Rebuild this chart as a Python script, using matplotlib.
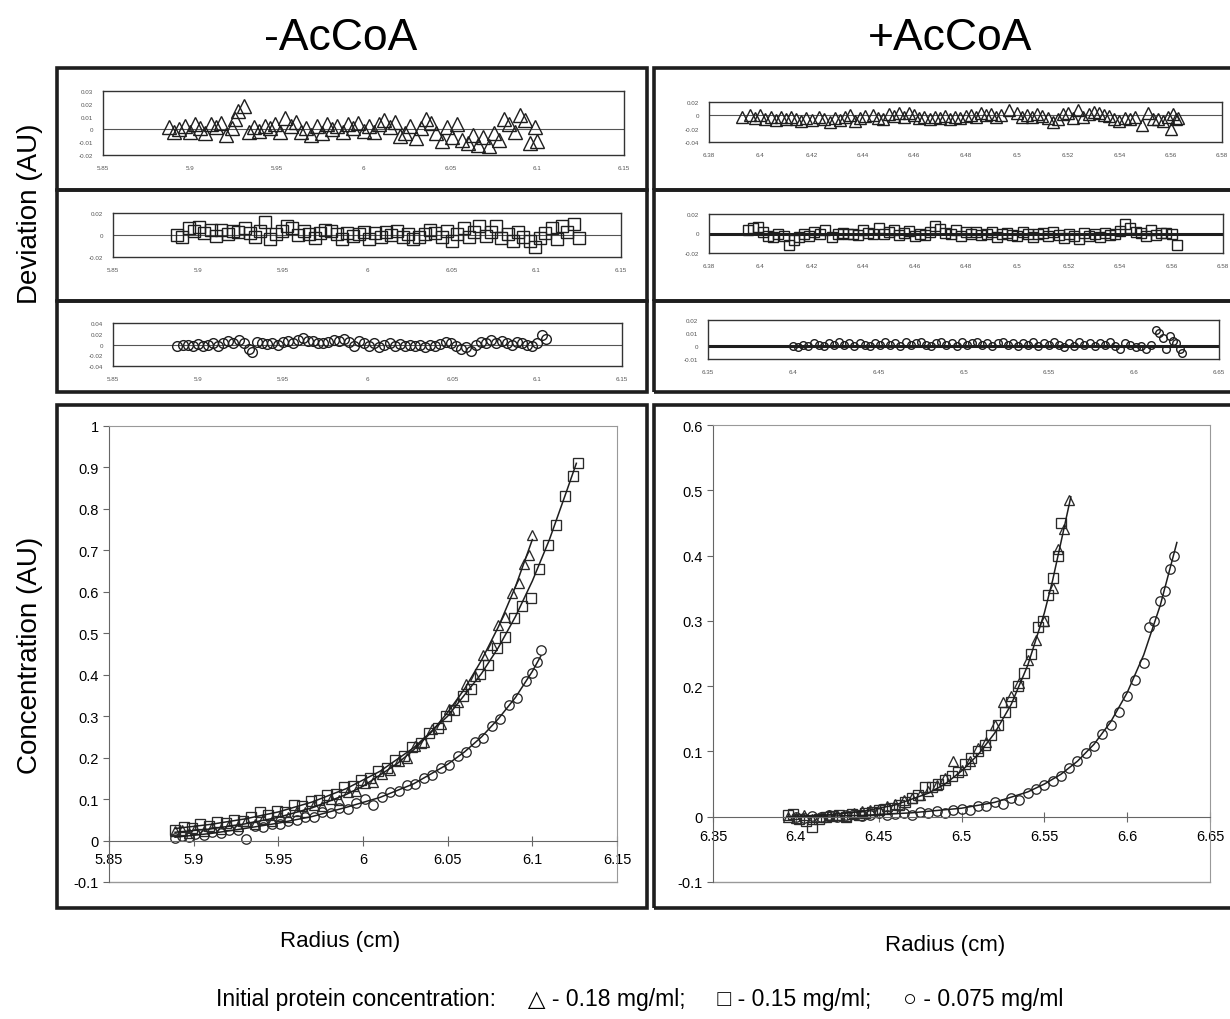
import matplotlib
matplotlib.use('Agg')
import matplotlib.pyplot as plt
from matplotlib.patches import Rectangle

W, H = 1230, 1020
INK = '#1e1e1e'

# ---- main plots: (radius, concentration) ----
L_TRI = [(5.889, 0.022), (5.893, 0.026), (5.897, 0.019), (5.901, 0.028), (5.906, 0.024),
         (5.911, 0.033), (5.916, 0.027), (5.921, 0.038), (5.926, 0.035), (5.931, 0.046),
         (5.936, 0.041), (5.941, 0.052), (5.946, 0.047), (5.951, 0.060), (5.956, 0.058),
         (5.961, 0.072), (5.966, 0.068), (5.971, 0.085), (5.976, 0.083), (5.981, 0.100),
         (5.986, 0.098), (5.991, 0.118), (5.996, 0.120), (6.001, 0.138), (6.006, 0.142),
         (6.011, 0.160), (6.016, 0.170), (6.021, 0.192), (6.026, 0.200), (6.031, 0.228),
         (6.036, 0.238), (6.041, 0.270), (6.046, 0.282), (6.051, 0.318), (6.056, 0.335),
         (6.061, 0.378), (6.066, 0.398), (6.071, 0.448), (6.076, 0.472), (6.080, 0.520),
         (6.084, 0.540), (6.088, 0.598), (6.092, 0.622), (6.095, 0.668), (6.098, 0.690),
         (6.100, 0.738)]
L_SQ = [(5.889, 0.025), (5.894, 0.033), (5.899, 0.030), (5.904, 0.040), (5.909, 0.036),
        (5.914, 0.045), (5.919, 0.042), (5.924, 0.050), (5.929, 0.048), (5.934, 0.058),
        (5.939, 0.068), (5.944, 0.062), (5.949, 0.072), (5.954, 0.070), (5.959, 0.085),
        (5.964, 0.084), (5.969, 0.095), (5.974, 0.097), (5.979, 0.110), (5.984, 0.112),
        (5.989, 0.130), (5.994, 0.131), (5.999, 0.145), (6.004, 0.150), (6.009, 0.168),
        (6.014, 0.176), (6.019, 0.195), (6.024, 0.204), (6.029, 0.225), (6.034, 0.236),
        (6.039, 0.260), (6.044, 0.272), (6.049, 0.300), (6.054, 0.316), (6.059, 0.348),
        (6.064, 0.365), (6.069, 0.402), (6.074, 0.424), (6.079, 0.465), (6.084, 0.490),
        (6.089, 0.538), (6.094, 0.565), (6.099, 0.585), (6.104, 0.655), (6.109, 0.712),
        (6.114, 0.760), (6.119, 0.830), (6.124, 0.880), (6.127, 0.910)]
L_CIRC = [(5.889, 0.006), (5.893, 0.012), (5.897, 0.009), (5.901, 0.015), (5.906, 0.013),
          (5.911, 0.020), (5.916, 0.018), (5.921, 0.026), (5.926, 0.025), (5.931, 0.003),
          (5.936, 0.034), (5.941, 0.032), (5.946, 0.041), (5.951, 0.040), (5.956, 0.048),
          (5.961, 0.050), (5.966, 0.058), (5.971, 0.058), (5.976, 0.068), (5.981, 0.066),
          (5.986, 0.078), (5.991, 0.076), (5.996, 0.090), (6.001, 0.100), (6.006, 0.085),
          (6.011, 0.104), (6.016, 0.118), (6.021, 0.120), (6.026, 0.133), (6.031, 0.136),
          (6.036, 0.152), (6.041, 0.158), (6.046, 0.175), (6.051, 0.182), (6.056, 0.205),
          (6.061, 0.214), (6.066, 0.238), (6.071, 0.248), (6.076, 0.276), (6.081, 0.292),
          (6.086, 0.326), (6.091, 0.345), (6.096, 0.385), (6.100, 0.405), (6.103, 0.430),
          (6.105, 0.460)]

R_TRI = [(6.395, 0.000), (6.400, -0.002), (6.405, 0.003), (6.410, -0.004), (6.415, 0.000),
         (6.420, 0.002), (6.425, 0.003), (6.430, 0.001), (6.435, 0.006), (6.440, 0.008),
         (6.445, 0.010), (6.450, 0.012), (6.455, 0.016), (6.460, 0.020), (6.465, 0.026),
         (6.470, 0.028), (6.475, 0.034), (6.480, 0.040), (6.485, 0.048), (6.490, 0.060),
         (6.495, 0.085), (6.500, 0.072), (6.505, 0.085), (6.510, 0.105), (6.515, 0.115),
         (6.520, 0.140), (6.525, 0.175), (6.530, 0.185), (6.535, 0.205), (6.540, 0.240),
         (6.545, 0.270), (6.550, 0.300), (6.555, 0.350), (6.558, 0.410), (6.562, 0.440),
         (6.565, 0.485)]
R_SQ = [(6.395, 0.002), (6.398, 0.004), (6.402, -0.004), (6.406, -0.006), (6.410, -0.015),
        (6.414, -0.004), (6.418, 0.000), (6.422, 0.001), (6.426, 0.002), (6.430, 0.000),
        (6.434, 0.004), (6.438, 0.003), (6.442, 0.006), (6.446, 0.007), (6.450, 0.010),
        (6.454, 0.012), (6.458, 0.014), (6.462, 0.018), (6.466, 0.022), (6.470, 0.028),
        (6.474, 0.034), (6.478, 0.045), (6.482, 0.046), (6.486, 0.050), (6.490, 0.056),
        (6.494, 0.062), (6.498, 0.068), (6.502, 0.080), (6.506, 0.090), (6.510, 0.100),
        (6.514, 0.110), (6.518, 0.125), (6.522, 0.140), (6.526, 0.160), (6.530, 0.175),
        (6.534, 0.200), (6.538, 0.220), (6.542, 0.250), (6.546, 0.290), (6.549, 0.300),
        (6.552, 0.340), (6.555, 0.365), (6.558, 0.400), (6.560, 0.450)]
R_CIRC = [(6.400, 0.000), (6.405, -0.002), (6.410, 0.001), (6.415, -0.001), (6.420, 0.003),
          (6.425, 0.000), (6.430, 0.002), (6.435, 0.004), (6.440, 0.001), (6.445, 0.003),
          (6.450, 0.005), (6.455, 0.002), (6.460, 0.004), (6.465, 0.006), (6.470, 0.003),
          (6.475, 0.007), (6.480, 0.005), (6.485, 0.008), (6.490, 0.006), (6.495, 0.010),
          (6.500, 0.012), (6.505, 0.010), (6.510, 0.017), (6.515, 0.016), (6.520, 0.022),
          (6.525, 0.020), (6.530, 0.028), (6.535, 0.026), (6.540, 0.036), (6.545, 0.042),
          (6.550, 0.048), (6.555, 0.055), (6.560, 0.062), (6.565, 0.074), (6.570, 0.085),
          (6.575, 0.098), (6.580, 0.108), (6.585, 0.126), (6.590, 0.140), (6.595, 0.160),
          (6.600, 0.185), (6.605, 0.210), (6.610, 0.235), (6.613, 0.290), (6.616, 0.300),
          (6.620, 0.330), (6.623, 0.345), (6.626, 0.380), (6.628, 0.400)]

# fitted curves, points
FIT_L_TRI = [(5.889, 0.020), (5.91, 0.028), (5.93, 0.040), (5.95, 0.056), (5.97, 0.079),
             (5.99, 0.111), (6.00, 0.131), (6.02, 0.185), (6.03, 0.219), (6.04, 0.260),
             (6.05, 0.309), (6.06, 0.366), (6.07, 0.435), (6.08, 0.516), (6.09, 0.612),
             (6.10, 0.726)]
FIT_L_SQ = [(5.889, 0.029), (5.91, 0.039), (5.93, 0.052), (5.95, 0.069), (5.97, 0.093),
            (5.99, 0.125), (6.01, 0.167), (6.03, 0.224), (6.05, 0.300), (6.07, 0.403),
            (6.08, 0.466), (6.09, 0.540), (6.10, 0.626), (6.11, 0.725), (6.12, 0.840),
            (6.126, 0.910)]
FIT_L_CIRC = [(5.889, 0.008), (5.91, 0.017), (5.93, 0.029), (5.95, 0.042), (5.97, 0.058),
              (5.99, 0.080), (6.01, 0.104), (6.03, 0.137), (6.05, 0.184), (6.06, 0.214),
              (6.07, 0.250), (6.08, 0.294), (6.09, 0.345), (6.10, 0.408), (6.105, 0.445)]
FIT_R_TRI = [(6.395, 0.000), (6.42, 0.003), (6.44, 0.008), (6.46, 0.018), (6.48, 0.036),
             (6.49, 0.050), (6.50, 0.070), (6.51, 0.095), (6.52, 0.128), (6.53, 0.172),
             (6.54, 0.232), (6.55, 0.312), (6.555, 0.362), (6.56, 0.420), (6.566, 0.490)]
FIT_R_CIRC = [(6.400, 0.000), (6.44, 0.002), (6.47, 0.006), (6.50, 0.013), (6.52, 0.022),
              (6.54, 0.038), (6.55, 0.050), (6.56, 0.065), (6.57, 0.085), (6.58, 0.111),
              (6.59, 0.145), (6.60, 0.190), (6.61, 0.248), (6.62, 0.324), (6.63, 0.420)]

# ---- residual (deviation) plots ----
RES_L_TRI = [(5.888, 0.002), (5.891, -0.002), (5.894, 0.000), (5.897, 0.003), (5.900, -0.002),
             (5.903, 0.004), (5.906, 0.001), (5.909, -0.003), (5.912, 0.004), (5.915, 0.002),
             (5.918, 0.005), (5.921, -0.004), (5.924, 0.001), (5.926, 0.008), (5.928, 0.014),
             (5.931, 0.018), (5.934, -0.002), (5.937, 0.002), (5.940, -0.001), (5.943, 0.003),
             (5.946, 0.001), (5.949, 0.004), (5.952, -0.002), (5.955, 0.009), (5.958, 0.003),
             (5.961, 0.006), (5.964, -0.002), (5.967, 0.001), (5.970, -0.004), (5.973, 0.003),
             (5.976, -0.003), (5.979, 0.004), (5.982, 0.000), (5.985, 0.003), (5.988, -0.002),
             (5.991, 0.004), (5.994, 0.001), (5.997, 0.005), (6.000, -0.001), (6.003, 0.003),
             (6.006, -0.002), (6.009, 0.004), (6.012, 0.007), (6.015, 0.002), (6.018, 0.006),
             (6.021, -0.005), (6.024, -0.003), (6.027, 0.003), (6.030, -0.007), (6.033, 0.001),
             (6.036, 0.008), (6.039, 0.005), (6.042, -0.003), (6.045, -0.009), (6.048, 0.002),
             (6.051, -0.006), (6.054, 0.004), (6.057, -0.008), (6.060, -0.011), (6.063, -0.004),
             (6.066, -0.012), (6.069, -0.006), (6.072, -0.013), (6.075, -0.003), (6.078, -0.008),
             (6.081, 0.008), (6.084, 0.004), (6.087, -0.002), (6.090, 0.011), (6.093, 0.007),
             (6.096, -0.011), (6.099, 0.002), (6.100, -0.009)]
RES_L_SQ = [(5.888, 0.000), (5.891, -0.002), (5.895, 0.006), (5.898, 0.004), (5.901, 0.007),
            (5.904, 0.002), (5.908, 0.005), (5.911, -0.001), (5.914, 0.005), (5.918, 0.001),
            (5.921, 0.004), (5.924, 0.003), (5.928, 0.006), (5.931, 0.002), (5.934, -0.002),
            (5.937, 0.004), (5.940, 0.012), (5.943, -0.004), (5.946, 0.001), (5.950, 0.004),
            (5.953, 0.008), (5.956, 0.006), (5.959, 0.000), (5.963, 0.004), (5.966, 0.001),
            (5.969, -0.003), (5.972, 0.002), (5.975, 0.005), (5.979, 0.004), (5.982, 0.001),
            (5.985, -0.004), (5.988, 0.002), (5.992, -0.001), (5.995, 0.001), (5.998, 0.003),
            (6.001, -0.004), (6.005, 0.002), (6.008, -0.002), (6.011, 0.003), (6.014, 0.000),
            (6.018, 0.004), (6.021, -0.002), (6.024, 0.001), (6.027, -0.004), (6.031, -0.002),
            (6.034, 0.001), (6.037, 0.005), (6.040, 0.002), (6.044, -0.002), (6.047, 0.004),
            (6.050, -0.005), (6.053, 0.001), (6.057, 0.006), (6.060, -0.002), (6.063, 0.003),
            (6.066, 0.008), (6.070, -0.001), (6.073, 0.003), (6.076, 0.008), (6.079, -0.003),
            (6.083, 0.001), (6.086, -0.005), (6.089, 0.003), (6.092, -0.002), (6.096, -0.005),
            (6.099, -0.011), (6.102, -0.003), (6.105, 0.002), (6.109, 0.006), (6.112, -0.004),
            (6.115, 0.008), (6.118, 0.003), (6.122, 0.010), (6.125, -0.003)]
RES_L_CIRC = [(5.888, -0.002), (5.891, -0.001), (5.894, 0.000), (5.897, -0.002), (5.900, 0.001),
              (5.903, -0.003), (5.906, 0.000), (5.909, 0.002), (5.912, -0.002), (5.915, 0.003),
              (5.918, 0.006), (5.921, 0.002), (5.924, 0.009), (5.927, 0.003), (5.930, -0.008),
              (5.932, -0.014), (5.935, 0.004), (5.938, 0.002), (5.941, 0.001), (5.944, 0.003),
              (5.947, 0.000), (5.950, 0.004), (5.953, 0.006), (5.956, 0.002), (5.959, 0.008),
              (5.962, 0.012), (5.965, 0.007), (5.968, 0.006), (5.971, 0.003), (5.974, 0.002),
              (5.977, 0.005), (5.980, 0.008), (5.983, 0.006), (5.986, 0.010), (5.989, 0.004),
              (5.992, -0.003), (5.995, 0.007), (5.998, 0.002), (6.001, -0.002), (6.004, 0.003),
              (6.007, -0.004), (6.010, 0.000), (6.013, 0.002), (6.016, -0.003), (6.019, 0.001),
              (6.022, -0.002), (6.025, 0.000), (6.028, -0.003), (6.031, -0.001), (6.034, -0.004),
              (6.037, 0.000), (6.040, -0.002), (6.043, 0.001), (6.046, 0.005), (6.049, 0.002),
              (6.052, -0.002), (6.055, -0.008), (6.058, -0.005), (6.061, -0.012), (6.064, 0.000),
              (6.067, 0.005), (6.070, 0.002), (6.073, 0.008), (6.076, 0.003), (6.079, 0.006),
              (6.082, 0.002), (6.085, -0.001), (6.088, 0.004), (6.091, 0.002), (6.094, 0.000),
              (6.097, -0.002), (6.100, 0.002), (6.103, 0.018), (6.105, 0.010)]
RES_R_TRI = [(6.393, -0.003), (6.396, 0.000), (6.398, -0.004), (6.400, 0.000), (6.402, -0.006),
             (6.404, -0.002), (6.406, -0.007), (6.408, -0.003), (6.410, -0.006), (6.412, -0.002),
             (6.414, -0.005), (6.416, -0.008), (6.418, -0.004), (6.420, -0.007), (6.423, -0.003),
             (6.425, -0.006), (6.427, -0.010), (6.429, -0.004), (6.431, -0.007), (6.433, -0.002),
             (6.435, 0.000), (6.437, -0.008), (6.439, -0.004), (6.441, -0.001), (6.444, 0.000),
             (6.446, -0.004), (6.448, -0.006), (6.450, 0.002), (6.452, -0.001), (6.454, 0.003),
             (6.456, -0.002), (6.458, 0.004), (6.460, 0.001), (6.462, -0.004), (6.464, -0.002),
             (6.466, -0.005), (6.468, -0.002), (6.470, -0.004), (6.472, -0.001), (6.474, -0.006),
             (6.476, -0.002), (6.478, -0.004), (6.480, -0.001), (6.482, 0.001), (6.484, -0.002),
             (6.486, 0.004), (6.488, 0.000), (6.490, 0.002), (6.492, -0.003), (6.494, 0.000),
             (6.497, 0.008), (6.500, 0.003), (6.502, -0.003), (6.504, 0.001), (6.506, -0.002),
             (6.508, 0.002), (6.510, -0.001), (6.512, -0.004), (6.514, -0.010), (6.516, -0.006),
             (6.518, 0.002), (6.520, 0.004), (6.522, -0.004), (6.524, 0.008), (6.526, -0.003),
             (6.528, 0.002), (6.530, 0.005), (6.532, 0.003), (6.534, 0.000), (6.536, -0.001),
             (6.538, -0.005), (6.540, -0.008), (6.542, -0.004), (6.544, -0.006), (6.546, -0.002),
             (6.549, -0.014), (6.551, 0.003), (6.553, -0.006), (6.555, -0.006), (6.557, -0.008),
             (6.559, -0.003), (6.560, -0.020), (6.561, 0.002), (6.562, -0.006), (6.563, -0.004)]
RES_R_SQ = [(6.395, 0.004), (6.397, 0.006), (6.399, 0.007), (6.401, 0.002), (6.403, -0.003),
            (6.405, -0.004), (6.407, 0.000), (6.409, -0.003), (6.411, -0.012), (6.413, -0.007),
            (6.415, -0.004), (6.417, -0.001), (6.419, -0.003), (6.421, 0.002), (6.423, -0.001),
            (6.425, 0.004), (6.428, -0.004), (6.430, 0.000), (6.432, 0.001), (6.434, -0.001),
            (6.436, 0.000), (6.438, -0.002), (6.440, 0.004), (6.442, 0.001), (6.444, -0.001),
            (6.446, 0.006), (6.448, 0.000), (6.450, 0.002), (6.452, 0.004), (6.454, -0.002),
            (6.456, 0.001), (6.458, 0.003), (6.460, -0.003), (6.462, 0.000), (6.464, -0.002),
            (6.466, 0.002), (6.468, 0.008), (6.470, 0.005), (6.472, 0.001), (6.474, 0.000),
            (6.476, 0.004), (6.478, -0.003), (6.480, 0.002), (6.482, 0.000), (6.484, 0.002),
            (6.486, -0.002), (6.488, -0.001), (6.490, 0.002), (6.492, -0.004), (6.494, 0.000),
            (6.496, 0.001), (6.498, -0.002), (6.500, -0.003), (6.502, 0.002), (6.504, 0.000),
            (6.506, -0.004), (6.508, -0.001), (6.510, 0.001), (6.512, -0.003), (6.514, 0.002),
            (6.516, -0.002), (6.518, -0.005), (6.520, 0.000), (6.522, -0.003), (6.524, -0.006),
            (6.526, 0.001), (6.528, -0.003), (6.530, -0.001), (6.532, -0.004), (6.534, 0.001),
            (6.536, -0.002), (6.538, 0.000), (6.540, 0.003), (6.542, 0.010), (6.544, 0.006),
            (6.546, 0.002), (6.548, 0.001), (6.550, -0.003), (6.552, 0.004), (6.554, -0.002),
            (6.556, 0.001), (6.558, 0.001), (6.560, -0.001), (6.562, -0.012)]
RES_R_CIRC = [(6.400, 0.000), (6.403, -0.001), (6.406, 0.001), (6.409, 0.000), (6.412, 0.002),
              (6.415, 0.001), (6.418, 0.000), (6.421, 0.002), (6.424, 0.001), (6.427, 0.003),
              (6.430, 0.001), (6.433, 0.002), (6.436, 0.000), (6.439, 0.002), (6.442, 0.001),
              (6.445, 0.000), (6.448, 0.002), (6.451, 0.001), (6.454, 0.003), (6.457, 0.001),
              (6.460, 0.002), (6.463, 0.000), (6.466, 0.003), (6.469, 0.001), (6.472, 0.002),
              (6.475, 0.003), (6.478, 0.001), (6.481, 0.000), (6.484, 0.002), (6.487, 0.003),
              (6.490, 0.001), (6.493, 0.002), (6.496, 0.000), (6.499, 0.003), (6.502, 0.001),
              (6.505, 0.002), (6.508, 0.003), (6.511, 0.001), (6.514, 0.002), (6.517, 0.000),
              (6.520, 0.002), (6.523, 0.003), (6.526, 0.001), (6.529, 0.002), (6.532, 0.000),
              (6.535, 0.002), (6.538, 0.001), (6.541, 0.003), (6.544, 0.000), (6.547, 0.002),
              (6.550, 0.001), (6.553, 0.003), (6.556, 0.001), (6.559, -0.001), (6.562, 0.002),
              (6.565, 0.000), (6.568, 0.003), (6.571, 0.001), (6.574, 0.002), (6.577, 0.000),
              (6.580, 0.002), (6.583, 0.001), (6.586, 0.003), (6.589, 0.000), (6.592, -0.002),
              (6.595, 0.002), (6.598, 0.001), (6.601, -0.001), (6.604, 0.000), (6.607, -0.002),
              (6.610, 0.001), (6.613, 0.012), (6.615, 0.010), (6.617, 0.006), (6.619, -0.002),
              (6.621, 0.008), (6.623, 0.004), (6.625, 0.002), (6.627, -0.002), (6.628, -0.005)]

# tick values and labels
L_XTICKS = [5.85, 5.9, 5.95, 6.0, 6.05, 6.1, 6.15]
L_XLABELS = ['5.85', '5.9', '5.95', '6', '6.05', '6.1', '6.15']
R_XTICKS = [6.35, 6.4, 6.45, 6.5, 6.55, 6.6, 6.65]
R_XLABELS = ['6.35', '6.4', '6.45', '6.5', '6.55', '6.6', '6.65']
R_RES_XTICKS = [6.38, 6.40, 6.42, 6.44, 6.46, 6.48, 6.50, 6.52, 6.54, 6.56, 6.58]
R_RES_XLABELS = ['6.38', '6.4', '6.42', '6.44', '6.46', '6.48', '6.5', '6.52', '6.54', '6.56', '6.58']
L_YTICKS = [-0.1, 0, 0.1, 0.2, 0.3, 0.4, 0.5, 0.6, 0.7, 0.8, 0.9, 1.0]
L_YLABELS = ['-0.1', '0', '0.1', '0.2', '0.3', '0.4', '0.5', '0.6', '0.7', '0.8', '0.9', '1']
R_YTICKS = [-0.1, 0, 0.1, 0.2, 0.3, 0.4, 0.5, 0.6]
R_YLABELS = ['-0.1', '0', '0.1', '0.2', '0.3', '0.4', '0.5', '0.6']

LEGEND = ('Initial protein concentration:     \u25b3 - 0.18 mg/ml;     '
          '\u25a1 - 0.15 mg/ml;     \u25cb - 0.075 mg/ml')

plt.rcParams['font.family'] = ['Liberation Sans', 'DejaVu Sans']


def px_rect(l, t, r, b):
    # pixel box (from top-left) -> figure fraction
    return [l / W, 1 - b / H, (r - l) / W, (b - t) / H]


def draw_box(fig, l, t, r, b):
    fig.add_artist(Rectangle((l / W, 1 - b / H), (r - l) / W, (b - t) / H,
                             transform=fig.transFigure, fill=False, lw=2.6, ec=INK))


def residual_panel(fig, pos, pts, marker, ms, xlim, xticks, xlabels, ylim, yticks, thick_zero=False):
    ax = fig.add_axes(px_rect(*pos))
    x, y = zip(*pts)
    if thick_zero:
        ax.axhline(0, color=INK, lw=2.2, zorder=1)
    else:
        ax.axhline(0, color='#555', lw=0.8, zorder=1)
    ax.plot(x, y, linestyle='none', marker=marker, ms=ms, mfc='none', mec=INK, mew=1.0, zorder=2)
    ax.set_xlim(*xlim)
    ax.set_ylim(*ylim)
    ax.set_xticks(xticks)
    ax.set_xticklabels(xlabels)
    ax.set_yticks(yticks)
    ax.set_yticklabels([f'{v:g}' for v in yticks])
    ax.tick_params(length=0, labelsize=4.5, labelcolor='#555', pad=7)
    for s in ax.spines.values():
        s.set_linewidth(1.0)
        s.set_color('#333')
    return ax


def main_panel(fig, pos, series, fits, xlim, xticks, xlabels, ylim, yticks, ylabels):
    ax = fig.add_axes(px_rect(*pos))
    for pts, marker in series:
        x, y = zip(*pts)
        ax.plot(x, y, linestyle='none', marker=marker, ms=6.8, mfc='none', mec='#2a2a2a', mew=0.95)
    for pts in fits:
        x, y = zip(*pts)
        ax.plot(x, y, color=INK, lw=1.1)
    ax.set_xlim(*xlim)
    ax.set_ylim(*ylim)
    ax.set_xticks(xticks)
    ax.set_xticklabels(xlabels)
    ax.set_yticks(yticks)
    ax.set_yticklabels(ylabels)
    # excel style: x axis crosses at zero, grey plot-area frame
    ax.spines['bottom'].set_position(('data', 0))
    ax.spines['bottom'].set_color('#666')
    ax.spines['left'].set_color('#666')
    for s in ('top', 'right'):
        ax.spines[s].set_color('#999')
    ax.plot([0, 1], [0, 0], transform=ax.transAxes, color='#999', lw=1.0, clip_on=False)
    ax.tick_params(axis='x', direction='inout', length=7, labelsize=10.5, pad=5, color='#666')
    ax.tick_params(axis='y', direction='out', length=4, labelsize=10.5, color='#666')
    return ax


fig = plt.figure(figsize=(W / 100, H / 100), dpi=100)

# frames around every panel
for l, r in ((57, 647), (654, 1240)):
    draw_box(fig, l, 69, r, 191)
    draw_box(fig, l, 191, r, 302)
    draw_box(fig, l, 302, r, 393)
    draw_box(fig, l, 406, r, 909)

# -AcCoA residuals
residual_panel(fig, (103, 92, 624, 156), RES_L_TRI, '^', 9.5, (5.85, 6.15), L_XTICKS, L_XLABELS,
               (-0.02, 0.03), [-0.02, -0.01, 0, 0.01, 0.02, 0.03])
residual_panel(fig, (113, 214, 621, 258), RES_L_SQ, 's', 8, (5.85, 6.15), L_XTICKS, L_XLABELS,
               (-0.02, 0.02), [-0.02, 0, 0.02])
residual_panel(fig, (113, 324, 622, 367), RES_L_CIRC, 'o', 7, (5.85, 6.15), L_XTICKS, L_XLABELS,
               (-0.04, 0.04), [-0.04, -0.02, 0, 0.02, 0.04])

# +AcCoA residuals
residual_panel(fig, (709, 103, 1222, 143), RES_R_TRI, '^', 8, (6.38, 6.58), R_RES_XTICKS, R_RES_XLABELS,
               (-0.04, 0.02), [-0.04, -0.02, 0, 0.02])
residual_panel(fig, (709, 215, 1223, 254), RES_R_SQ, 's', 6.5, (6.38, 6.58), R_RES_XTICKS, R_RES_XLABELS,
               (-0.02, 0.02), [-0.02, 0, 0.02], thick_zero=True)
residual_panel(fig, (708, 321, 1219, 360), RES_R_CIRC, 'o', 5.5, (6.35, 6.65), R_XTICKS, R_XLABELS,
               (-0.01, 0.02), [-0.01, 0, 0.01, 0.02], thick_zero=True)

# concentration profiles
main_panel(fig, (109, 427, 617, 883), [(L_TRI, '^'), (L_SQ, 's'), (L_CIRC, 'o')],
           [FIT_L_TRI, FIT_L_SQ, FIT_L_CIRC], (5.85, 6.15), L_XTICKS, L_XLABELS,
           (-0.1, 1.0), L_YTICKS, L_YLABELS)
main_panel(fig, (713, 426, 1210, 883), [(R_TRI, '^'), (R_SQ, 's'), (R_CIRC, 'o')],
           [FIT_R_TRI, FIT_R_CIRC], (6.35, 6.65), R_XTICKS, R_XLABELS,
           (-0.1, 0.6), R_YTICKS, R_YLABELS)

# titles and labels
fig.text(341 / W, 1 - 38 / H, '-AcCoA', fontsize=32, ha='center', va='center')
fig.text(950 / W, 1 - 38 / H, '+AcCoA', fontsize=32, ha='center', va='center')
fig.text(30 / W, 1 - 214 / H, 'Deviation (AU)', fontsize=20, rotation=90, ha='center', va='center')
fig.text(30 / W, 1 - 655 / H, 'Concentration (AU)', fontsize=20, rotation=90, ha='center', va='center')
fig.text(340 / W, 1 - 942 / H, 'Radius (cm)', fontsize=16, ha='center', va='center')
fig.text(945 / W, 1 - 946 / H, 'Radius (cm)', fontsize=16, ha='center', va='center')
fig.text(640 / W, 1 - 1000 / H, LEGEND, fontsize=16.5, ha='center', va='center')

fig.savefig('out.png', dpi=100, facecolor='white')
